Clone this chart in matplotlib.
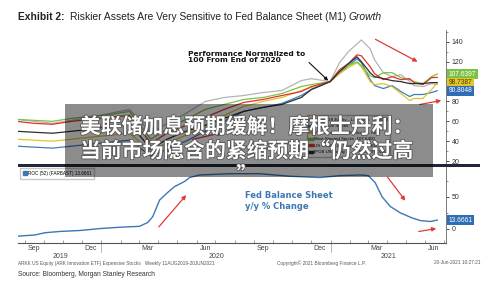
import matplotlib
matplotlib.use("Agg")
import matplotlib.pyplot as plt
import matplotlib.dates as mdates
import matplotlib.patheffects as pe
from matplotlib.patches import Rectangle, FancyArrowPatch
from matplotlib.lines import Line2D
from matplotlib.ticker import FixedLocator, MultipleLocator
import pandas as pd

plt.rcParams["font.family"] = ["Liberation Sans", "DejaVu Sans"]

# ---- data: top panel, performance normalised to 100 at end of 2020
top_dates = pd.to_datetime([
    "2019-08-18", "2019-09-15", "2019-10-15", "2019-11-15", "2019-12-15",
    "2020-01-15", "2020-02-15", "2020-03-20", "2020-04-15", "2020-05-15",
    "2020-06-15", "2020-07-15", "2020-08-15", "2020-09-15", "2020-10-15",
    "2020-11-15", "2020-12-01", "2020-12-31", "2021-01-15", "2021-01-29",
    "2021-02-12", "2021-02-19", "2021-03-05", "2021-03-12", "2021-03-26",
    "2021-04-09", "2021-04-23", "2021-05-07", "2021-05-14", "2021-05-28",
    "2021-06-11", "2021-06-20",
])
grey_s = [62, 60, 58, 61, 64, 68, 72, 48, 58, 68, 80, 84, 86, 89, 91, 101,
          103, 100, 119, 130, 138, 142, 133, 122, 109, 105, 107, 100, 96, 95, 98, 97]
yellow_s = [42, 41, 40, 42, 44, 46, 48, 30, 38, 46, 56, 66, 75, 80, 84, 91,
            94, 100, 108, 114, 119, 115, 100, 97, 98, 95, 88, 81, 83, 83, 92, 98.74]
blue_s = [35, 34, 33, 35, 37, 39, 41, 25, 32, 40, 50, 60, 70, 74, 78, 86,
          92, 100, 108, 116, 123, 119, 102, 96, 93, 96, 90, 85, 87, 87, 89, 90.80]
green_s = [62, 61, 60, 63, 65, 67, 70, 42, 52, 62, 72, 77, 82, 84, 88, 95,
           97, 100, 110, 116, 120, 116, 106, 104, 109, 109, 104, 102, 100, 98, 105, 107.64]
red_s = [60, 58, 57, 60, 62, 64, 66, 38, 48, 56, 64, 72, 79, 82, 86, 90,
         95, 100, 112, 118, 127, 126, 115, 108, 102, 105, 102, 103, 99, 97, 104, 104.23]
black_s = [50, 49, 48, 50, 52, 55, 58, 32, 42, 50, 56, 63, 70, 74, 77, 84,
           92, 100, 110, 118, 125, 120, 109, 105, 103, 101, 100, 98, 98, 98, 99, 99.0]

top_series = [
    ("ARKK US Equity - Last Price", grey_s, "#b4b4b4"),
    ("Expensive Stocks", blue_s, "#3a7fc0"),
    ("Unprofitable Tech Stocks", yellow_s, "#e2c42a"),
    ("Most Shorted Stocks", green_s, "#7cc242"),
    ("US Small Cap Growth", red_s, "#e03232"),
    ("IPOB US Equity - Last Price", black_s, "#2e2e2e"),
]
box_values = [107.6397, 98.7387, 90.8048]

# ---- data: bottom panel, Fed balance sheet y/y % change
bs_dates = pd.to_datetime([
    "2019-08-11", "2019-09-17", "2019-10-03", "2019-10-27", "2019-11-28",
    "2019-12-30", "2020-01-31", "2020-03-02", "2020-03-15", "2020-03-23",
    "2020-04-03", "2020-04-15", "2020-04-27", "2020-05-13", "2020-05-21",
    "2020-06-06", "2020-07-24", "2020-09-10", "2020-10-28", "2020-12-15",
    "2021-01-16", "2021-02-17", "2021-03-02", "2021-03-13", "2021-03-24",
    "2021-04-06", "2021-04-22", "2021-05-11", "2021-05-24", "2021-06-09",
    "2021-06-20",
])
bs_roc = [-12, -9.5, -6, -4, -2.5, 0.5, 2.6, 4, 10, 19, 45, 56, 66, 74, 80,
          84, 86, 86, 82, 80, 83, 84, 83, 72, 50, 35, 25, 17, 13, 11.5, 13.6661]

W, H = 500, 283
BLUE = "#3c78b4"
RED = "#e03a3a"


def fx(px):
    return px / W


def fy(py):
    return 1 - py / H


fig = plt.figure(figsize=(5, 2.83), dpi=100)
fig.patch.set_facecolor("white")
ax_top = fig.add_axes([fx(18), fy(164), (446 - 18) / W, (164 - 30) / H])
ax_bot = fig.add_axes([fx(18), fy(243), (446 - 18) / W, (243 - 166) / H], sharex=ax_top)

for name, vals, col in top_series:
    ax_top.plot(top_dates, vals, color=col, lw=0.9, label=f"{name}  {vals[-1]:.4f}")
ax_bot.plot(bs_dates, bs_roc, color=BLUE, lw=1.0)

ax_top.set_xlim(pd.Timestamp("2019-08-21"), pd.Timestamp("2021-07-04"))
ax_top.set_ylim(17, 152)
ax_bot.set_ylim(-22, 98)

for ax in (ax_top, ax_bot):
    ax.set_facecolor("none")
    ax.yaxis.tick_right()
    for s in ("top", "left"):
        ax.spines[s].set_visible(False)
    ax.spines["right"].set_color("#666666")
    ax.spines["right"].set_linewidth(0.6)
    ax.tick_params(axis="y", which="major", labelsize=5, colors="#333333",
                   length=2.5, width=0.6, pad=1.5)
    ax.tick_params(axis="y", which="minor", length=1.2, width=0.5, colors="#666666")

ax_top.spines["bottom"].set_visible(False)
ax_top.yaxis.set_major_locator(FixedLocator([20, 40, 60, 80, 120, 140]))
ax_top.yaxis.set_minor_locator(MultipleLocator(10))
ax_top.tick_params(axis="x", which="both", bottom=False, labelbottom=False)

ax_bot.yaxis.set_major_locator(MultipleLocator(50))
ax_bot.yaxis.set_minor_locator(MultipleLocator(25))
ax_bot.spines["bottom"].set_color("#555555")
ax_bot.spines["bottom"].set_linewidth(0.8)
ax_bot.xaxis.set_major_locator(mdates.MonthLocator())
ax_bot.xaxis.set_major_formatter(plt.NullFormatter())
ax_bot.xaxis.set_minor_locator(mdates.MonthLocator(bymonth=[3, 6, 9, 12], bymonthday=15))
ax_bot.xaxis.set_minor_formatter(mdates.DateFormatter("%b"))
ax_bot.tick_params(axis="x", which="major", direction="in", length=2, width=0.5, colors="#777777")
ax_bot.tick_params(axis="x", which="minor", length=0, labelsize=5, labelcolor="#444444", pad=1.5)

# year dividers and labels
yr_tf = ax_bot.get_xaxis_transform()
for d in ("2020-01-01", "2021-01-01"):
    ax_bot.plot([pd.Timestamp(d)] * 2, [0, -0.12], transform=yr_tf, color="#999999",
                lw=0.5, clip_on=False)
for label, d in (("2019", "2019-10-28"), ("2020", "2020-07-02"), ("2021", "2021-04-03")):
    ax_bot.text(pd.Timestamp(d), -0.175, label, transform=yr_tf, ha="center", va="center",
                fontsize=5, color="#444444")

# value boxes on the right axis
box_cols = [("#7cc242", "white"), ("#e2c42a", "#4a3d00"), ("#2f6db5", "white")]
for val, (fc, tc) in zip(box_values, box_cols):
    ax_top.annotate(f"{val:.4f}", xy=(1.0, val), xycoords=("axes fraction", "data"),
                    xytext=(2, 0), textcoords="offset points", ha="left", va="center",
                    fontsize=4.8, color=tc, annotation_clip=False, zorder=10,
                    bbox=dict(boxstyle="square,pad=0.25", fc=fc, ec="none"))
ax_bot.annotate(f"{bs_roc[-1]:.4f}", xy=(1.0, bs_roc[-1]), xycoords=("axes fraction", "data"),
                xytext=(2, 0), textcoords="offset points", ha="left", va="center",
                fontsize=4.8, color="white", annotation_clip=False, zorder=10,
                bbox=dict(boxstyle="square,pad=0.25", fc="#2f6db5", ec="none"))

# legends
leg = ax_top.legend(loc="upper left", bbox_to_anchor=(0.67, 0.38), fontsize=3.2,
                    frameon=True, fancybox=False, edgecolor="#aaaaaa", handlelength=0.6,
                    handletextpad=0.4, borderpad=0.5, labelspacing=0.55)
for h in leg.legend_handles:
    h.set_linewidth(2.5)
ax_bot.legend([Line2D([], [], marker="s", ls="none", color=BLUE, ms=2.5)],
              [f"ROC (52) (FARBAST) {bs_roc[-1]:.4f}"], loc="upper left",
              bbox_to_anchor=(0.0, 1.0), fontsize=3.3, frameon=True, fancybox=False,
              edgecolor="#bbbbbb", handlelength=0.8, handletextpad=0.3, borderpad=0.6)

# annotations
ax_top.annotate("Performance Normalized to\n100 From End of 2020",
                xy=(pd.Timestamp("2020-12-28"), 101), xycoords="data",
                xytext=(fx(188), fy(57)), textcoords="figure fraction",
                ha="left", va="center", fontsize=5.4, weight="bold", color="#111111",
                family="DejaVu Sans", linespacing=1.2,
                arrowprops=dict(arrowstyle="-|>", color="#111111", lw=0.8,
                                mutation_scale=5, relpos=(1.0, 0.35), shrinkA=1, shrinkB=0))
fig.text(fx(245), fy(201), "Fed Balance Sheet\ny/y % Change", ha="left", va="center",
         fontsize=6, weight="bold", color=BLUE, family="DejaVu Sans", linespacing=1.2)

red_arrows = [((373, 38), (420, 63)), ((417, 105), (444, 100)), ((190, 140), (225, 132)),
              ((157, 229), (188, 193)), ((386, 175), (407, 203)), ((416, 232), (439, 228))]
for (x0, y0), (x1, y1) in red_arrows:
    fig.add_artist(FancyArrowPatch((fx(x0), fy(y0)), (fx(x1), fy(y1)),
                                   transform=fig.transFigure, arrowstyle="-|>",
                                   mutation_scale=6, color=RED, lw=0.9, zorder=5))

# dark separator between panels
fig.add_artist(Rectangle((fx(18), fy(166.5)), (480 - 18) / W, 2.5 / H,
                         transform=fig.transFigure, fc="#1e2838", ec="none", zorder=6))

# title, built from three styles
renderer = fig.canvas.get_renderer()
t1 = fig.text(fx(18), fy(17), "Exhibit 2:", fontsize=7.4, weight="bold", va="center", color="#222222")
x_next = t1.get_window_extent(renderer).x1 + 5
t2 = fig.text(x_next / W, fy(17), "Riskier Assets Are Very Sensitive to Fed Balance Sheet (M1) ",
              fontsize=7.4, va="center", color="#222222")
x_next = t2.get_window_extent(renderer).x1
fig.text(x_next / W, fy(17), "Growth", fontsize=7.4, style="italic", va="center", color="#222222")

# footer
fig.text(fx(18), fy(263), "ARKK US Equity (ARK Innovation ETF) Expensive Stocks   Weekly 11AUG2019-20JUN2021",
         fontsize=3.4, va="center", color="#555555")
fig.text(fx(277), fy(263), "Copyright\u00a9 2021 Bloomberg Finance L.P.", fontsize=3.4,
         va="center", color="#555555")
fig.text(fx(480), fy(263), "20-Jun-2021 10:27:21", fontsize=3.4, va="center", ha="right",
         color="#555555")
fig.text(fx(18), fy(275), "Source: Bloomberg, Morgan Stanley Research", fontsize=4.8,
         va="center", color="#333333")

# semi-transparent headline banner
fig.add_artist(Rectangle((fx(65), fy(177)), (433 - 65) / W, (177 - 104) / H,
                         transform=fig.transFigure, fc="black", alpha=0.45, ec="none", zorder=20))
fig.text(fx(247), fy(151), "美联储加息预期缓解！摩根士丹利：\n当前市场隐含的紧缩预期“仍然过高\n”",
         ha="center", va="center", fontsize=15, weight="bold", color="white",
         family=["Noto Sans CJK SC", "DejaVu Sans"], linespacing=1.2, zorder=21,
         path_effects=[pe.withStroke(linewidth=1.2, foreground="#555555")])

fig.savefig("out.png", dpi=100, facecolor="white")
